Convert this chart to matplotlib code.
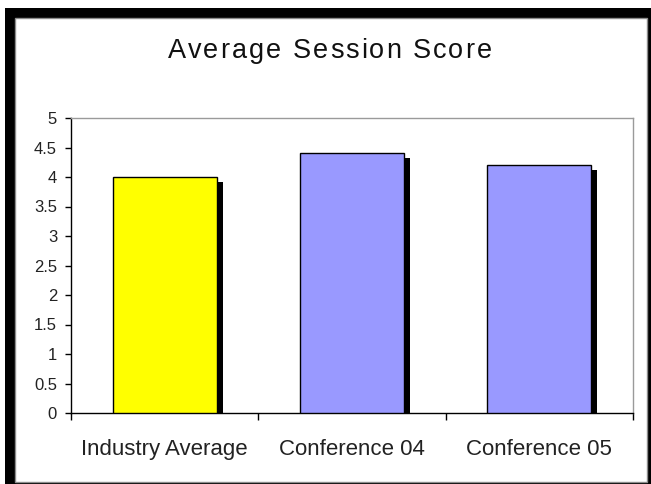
import matplotlib
matplotlib.use("Agg")
import matplotlib.pyplot as plt
import matplotlib.transforms as mtransforms
from matplotlib.patches import Rectangle
from matplotlib.font_manager import FontProperties
import numpy as np

# Session scores per event
categories = ["Industry Average", "Conference 04", "Conference 05"]
scores = [4.0, 4.4, 4.2]
bar_colors = ["#FFFF00", "#9999FF"]
y_ticks = [0, 0.5, 1, 1.5, 2, 2.5, 3, 3.5, 4, 4.5, 5]
title = "Average Session Score"

plt.rcParams["font.family"] = ["Liberation Sans", "DejaVu Sans"]

W, H = 651, 484
fig = plt.figure(figsize=(W / 100, H / 100), dpi=100)
fig.patch.set_facecolor("white")


def px_rect(x0, y0, x1, y1, **kw):
    # rectangle given in pixel coords measured from the top-left corner
    return Rectangle((x0 / W, 1 - y1 / H), (x1 - x0) / W, (y1 - y0) / H,
                     transform=fig.transFigure, zorder=-10, **kw)


# black frame with a white inner panel
fig.patches.append(px_rect(5, 8, 655, 490, facecolor="black", edgecolor="none"))
fig.patches.append(px_rect(15, 18, 647, 482, facecolor="white",
                           edgecolor="#8c8c8c", linewidth=1))

ax = fig.add_axes([71 / W, 71 / H, (633 - 71) / W, (413 - 118) / H])
ax.set_facecolor("white")

x = np.arange(len(categories))
colors = [bar_colors[0]] + [bar_colors[1]] * (len(categories) - 1)

# drop shadow behind each bar
shadow = mtransforms.offset_copy(ax.transData, fig=fig, x=6, y=-5, units="dots")
ax.bar(x, scores, width=0.555, color="black", transform=shadow, zorder=2)
ax.bar(x, scores, width=0.555, color=colors, edgecolor="black",
       linewidth=1, zorder=3)

ax.set_xlim(-0.5, len(categories) - 0.5)
ax.set_ylim(0, 5)

ax.set_yticks(y_ticks)
ax.set_yticklabels([f"{t:g}" for t in y_ticks], fontsize=12, color="#222222")
ax.tick_params(axis="y", direction="out", length=4, width=1, pad=6)

# category boundaries as major ticks, names on minor ticks
ax.set_xticks(np.arange(-0.5, len(categories), 1.0))
ax.set_xticklabels([])
ax.set_xticks(x, minor=True)
ax.set_xticklabels(categories, minor=True, fontsize=16, color="#222222")
ax.tick_params(axis="x", which="major", direction="out", length=5, width=1)
ax.tick_params(axis="x", which="minor", length=0, pad=19)

for side in ["left", "bottom"]:
    ax.spines[side].set_color("black")
    ax.spines[side].set_linewidth(1)
for side in ["top", "right"]:
    ax.spines[side].set_color("#9a9a9a")
    ax.spines[side].set_linewidth(1)

# title drawn letter by letter so it can be letter-spaced
renderer = fig.canvas.get_renderer()
prop = FontProperties(family="Liberation Sans", size=19.5)
widths = []
for ch in title:
    w, _, _ = renderer.get_text_width_height_descent(ch if ch != " " else "a a", prop, ismath=False)
    if ch == " ":
        wa, _, _ = renderer.get_text_width_height_descent("aa", prop, ismath=False)
        w = w - wa
    widths.append(w)
total = 324
tracking = (total - sum(widths)) / (len(title) - 1)
cx = 329.5 - total / 2
for ch, w in zip(title, widths):
    fig.text(cx / W, 1 - 51 / H, ch, ha="left", va="center",
             fontproperties=prop, color="#111111")
    cx += w + tracking

fig.savefig("out.png", dpi=100)
